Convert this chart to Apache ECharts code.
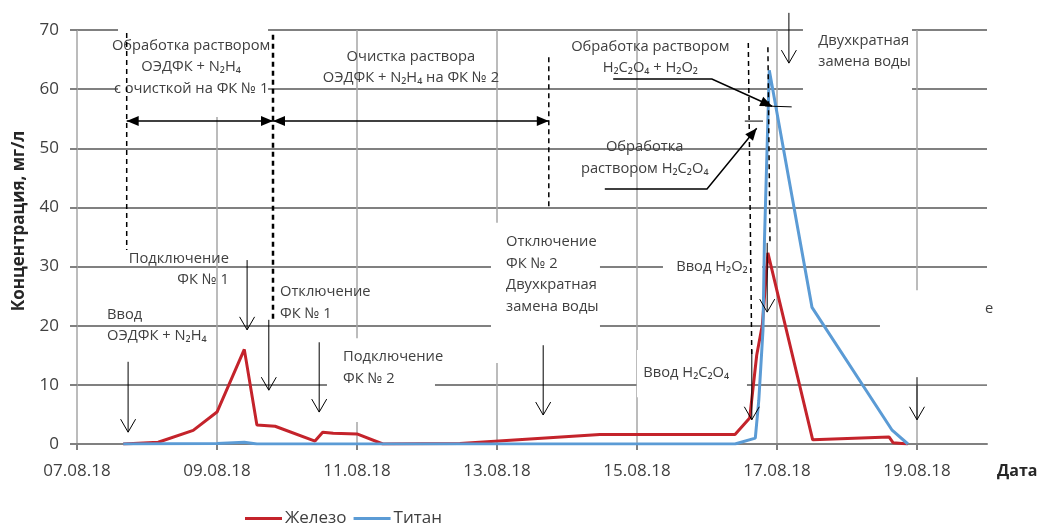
<!DOCTYPE html>
<html><head><meta charset="utf-8">
<script src="https://cdn.jsdelivr.net/npm/echarts@6/dist/echarts.min.js"></script>
<style>html,body{margin:0;padding:0;background:#fff}#c{width:1039px;height:525px}</style>
</head><body><div id="c"></div>
<script>
// x values are days of August 2018
const xTickValues = [7, 9, 11, 13, 15, 17, 19];
const xTickLabels = ['07.08.18', '09.08.18', '11.08.18', '13.08.18', '15.08.18', '17.08.18', '19.08.18'];
const seriesNames = ['Железо', 'Титан'];

const ironDays   = [7.66, 8.16, 8.66, 9.0, 9.39, 9.57, 9.83, 10.4, 10.51, 10.66, 11.0, 11.37, 12.47, 14.47, 16.4, 16.61, 16.71, 16.79, 16.87, 17.51, 18.6, 18.66, 18.87];
const ironValues = [0, 0.3, 2.3, 5.4, 16.0, 3.2, 3.0, 0.5, 2.0, 1.8, 1.7, 0, 0.1, 1.6, 1.6, 4.4, 15.0, 20.1, 32.3, 0.7, 1.2, 0.2, 0];

const titanDays   = [7.66, 9.0, 9.39, 9.57, 16.4, 16.69, 16.74, 16.8, 16.82, 16.89, 17.5, 18.64, 18.87];
const titanValues = [0, 0.1, 0.3, 0, 0, 1.0, 7.4, 19.3, 34, 63.2, 23.1, 2.4, 0];

// annotations in data coordinates [day, value]
const notes = [
  {t: ['Обработка раствором', 'ОЭДФК + N₂H₄', 'с очисткой на ФК № 1'], x: 8.63, y: 63.7, a: 'center'},
  {t: ['Очистка раствора', 'ОЭДФК + N₂H₄ на ФК № 2'], x: 11.77, y: 63.7, a: 'center'},
  {t: ['Обработка раствором', 'H₂C₂O₄ + H₂O₂'], x: 15.19, y: 65.4, a: 'center'},
  {t: ['Обработка', 'раствором H₂C₂O₄'], x: 15.11, y: 48.4, a: 'center'},
  {t: ['Двухкратная', 'замена воды'], x: 17.59, y: 66.4, a: 'left'},
  {t: ['Подключение', 'ФК № 1'], x: 9.17, y: 29.5, a: 'right'},
  {t: ['Отключение', 'ФК № 1'], x: 9.9, y: 23.9, a: 'left'},
  {t: ['Подключение', 'ФК № 2'], x: 10.8, y: 12.9, a: 'left'},
  {t: ['Ввод', 'ОЭДФК + N₂H₄'], x: 7.43, y: 20.1, a: 'left'},
  {t: ['Отключение', 'ФК № 2', 'Двухкратная', 'замена воды'], x: 13.13, y: 28.7, a: 'left'},
  {t: ['Ввод H₂O₂'], x: 15.56, y: 29.9, a: 'left'},
  {t: ['Ввод H₂C₂O₄'], x: 15.09, y: 12.0, a: 'left'},
  {t: ['е'], x: 20.03, y: 22.8, a: 'center'}
];
const downArrows = [ // [day, top value, bottom value]
  [9.43, 31.1, 19.3], [9.74, 21.0, 9.1], [10.46, 17.2, 5.4], [7.73, 13.9, 2.0],
  [13.66, 16.7, 4.9], [16.64, 15.9, 4.1], [16.86, 34.0, 22.3], [19.0, 11.3, 4.1], [17.17, 72.9, 64.4]
];
const dashedLines = [ // [day1, v1, day2, v2, width]
  [7.71, 69.5, 7.71, 32.8, 1.5], [9.8, 69.2, 9.8, 20.5, 2.5], [13.74, 65.4, 13.74, 39.6, 1.5],
  [16.59, 67.8, 16.64, 14.7, 1.5], [16.87, 67.1, 16.9, 34.0, 1.5]
];
const spanArrows = [[7.71, 9.8, 54.6], [9.8, 13.74, 54.6]];
const callouts = [
  {pts: [[14.66, 61.7], [16.07, 61.7], [16.93, 57.1]], tick: [[16.83, 57.15], [17.21, 57.0]]},
  {pts: [[14.54, 43.1], [16.0, 43.1], [16.71, 53.4]], tick: [[16.54, 54.6], [16.8, 54.6]]}
];
const maskBoxes = [ // [day1, v1, day2, v2]
  [7.586, 71, 9.729, 55.3], [17.371, 75, 18.929, 58.3], [9.843, 29.4, 10.829, 20.5],
  [10.571, 17.9, 12.114, 3.7], [12.914, 37.4, 14.471, 13.7], [15.371, 37.4, 16.786, 25.2],
  [15.0, 15.9, 16.571, 7.9], [18.471, 26.0, 20.2, 10.1]
];

const FONT = '"Open Sans", "Noto Sans", sans-serif';
const chart = echarts.init(document.getElementById('c'));
chart.setOption({
  animation: false,
  textStyle: {fontFamily: FONT},
  grid: {left: 77, right: 52, top: 30, bottom: 81, containLabel: false, outerBoundsMode: 'none'},
  legend: {
    data: seriesNames, left: 245, top: 510, padding: 0, icon: 'rect', itemWidth: 37, itemHeight: 3, itemGap: 7,
    textStyle: {fontSize: 17, color: '#404040', fontFamily: FONT, padding: [0, 0, 0, -2]}
  },
  xAxis: {
    type: 'value', min: 7, max: 20, interval: 1,
    axisLine: {show: true, lineStyle: {color: '#808080', width: 2}},
    axisTick: {show: true, customValues: xTickValues, length: 6, lineStyle: {color: '#808080', width: 2}},
    axisLabel: {
      customValues: xTickValues, fontSize: 17, color: '#404040', margin: 19, fontFamily: FONT,
      formatter: v => { const i = xTickValues.indexOf(Math.round(v)); return i >= 0 ? xTickLabels[i] : ''; }
    },
    splitLine: {show: true, lineStyle: {color: '#a6a6a6', width: 1.5}},
    name: 'Дата', nameLocation: 'end', nameGap: 10,
    nameTextStyle: {fontWeight: 'bold', fontSize: 16, color: '#262626', align: 'left', verticalAlign: 'top', padding: [19, 0, 0, 0], fontFamily: FONT}
  },
  yAxis: {
    type: 'value', min: 0, max: 70, interval: 10,
    axisLine: {show: false},
    axisTick: {show: true, length: 7, lineStyle: {color: '#808080', width: 2}},
    axisLabel: {fontSize: 17, color: '#404040', margin: 18, fontFamily: FONT},
    splitLine: {show: true, lineStyle: {color: '#808080', width: 2}},
    name: 'Концентрация, мг/л', nameLocation: 'middle', nameGap: 49,
    nameTextStyle: {fontWeight: 'bold', fontSize: 17, color: '#262626', fontFamily: FONT, padding: [0, 0, 0, 32]}
  },
  series: [
    {name: seriesNames[0], type: 'line', symbol: 'none', z: 3, color: '#c4232b',
     lineStyle: {width: 3, color: '#c4232b'}, data: ironDays.map((d, i) => [d, ironValues[i]])},
    {name: seriesNames[1], type: 'line', symbol: 'none', z: 3, color: '#5b9bd5',
     lineStyle: {width: 3, color: '#5b9bd5'}, data: titanDays.map((d, i) => [d, titanValues[i]])}
  ]
});

function P(d, v) { return chart.convertToPixel({gridIndex: 0}, [d, v]); }
function head(a, b, L, W) {
  const dx = b[0] - a[0], dy = b[1] - a[1], len = Math.hypot(dx, dy);
  const ux = dx / len, uy = dy / len, nx = -uy, ny = ux;
  return [[b[0] - L * ux + W * nx, b[1] - L * uy + W * ny], b, [b[0] - L * ux - W * nx, b[1] - L * uy - W * ny]];
}
const els = [];
maskBoxes.forEach(m => {
  const p1 = P(m[0], m[1]), p2 = P(m[2], m[3]);
  els.push({type: 'rect', z: 1, silent: true, shape: {x: p1[0], y: p1[1], width: p2[0] - p1[0], height: p2[1] - p1[1]}, style: {fill: '#fff'}});
});
dashedLines.forEach(l => {
  const p1 = P(l[0], l[1]), p2 = P(l[2], l[3]);
  els.push({type: 'line', z: 6, silent: true, shape: {x1: p1[0], y1: p1[1], x2: p2[0], y2: p2[1]}, style: {stroke: '#000', lineWidth: l[4], lineDash: [5, 4]}});
});
downArrows.forEach(a => {
  const p1 = P(a[0], a[1]), p2 = P(a[0], a[2]);
  els.push({type: 'line', z: 6, silent: true, shape: {x1: p1[0], y1: p1[1], x2: p2[0], y2: p2[1]}, style: {stroke: '#000', lineWidth: 1}});
  els.push({type: 'polyline', z: 6, silent: true, shape: {points: head(p1, p2, 13, 7.5)}, style: {stroke: '#000', lineWidth: 1, fill: null}});
});
spanArrows.forEach(s => {
  const p1 = P(s[0], s[2]), p2 = P(s[1], s[2]);
  els.push({type: 'line', z: 6, silent: true, shape: {x1: p1[0], y1: p1[1], x2: p2[0], y2: p2[1]}, style: {stroke: '#000', lineWidth: 1.5}});
  els.push({type: 'polygon', z: 6, silent: true, shape: {points: head(p2, p1, 12, 5)}, style: {fill: '#000'}});
  els.push({type: 'polygon', z: 6, silent: true, shape: {points: head(p1, p2, 12, 5)}, style: {fill: '#000'}});
});
callouts.forEach(c => {
  const pts = c.pts.map(p => P(p[0], p[1]));
  els.push({type: 'polyline', z: 6, silent: true, shape: {points: pts}, style: {stroke: '#000', lineWidth: 1.5, fill: null}});
  els.push({type: 'polygon', z: 6, silent: true, shape: {points: head(pts[pts.length - 2], pts[pts.length - 1], 12, 5)}, style: {fill: '#000'}});
  const t1 = P(c.tick[0][0], c.tick[0][1]), t2 = P(c.tick[1][0], c.tick[1][1]);
  els.push({type: 'line', z: 6, silent: true, shape: {x1: t1[0], y1: t1[1], x2: t2[0], y2: t2[1]}, style: {stroke: '#000', lineWidth: 1}});
});
notes.forEach(n => {
  const p = P(n.x, n.y);
  els.push({type: 'text', z: 5, silent: true, style: {
    text: n.t.join('\n'), x: p[0], y: p[1], align: n.a, verticalAlign: 'middle',
    font: '14.7px ' + FONT, fill: '#404040', lineHeight: 21.5
  }});
});
chart.setOption({graphic: {elements: els}});
</script>
</body></html>
